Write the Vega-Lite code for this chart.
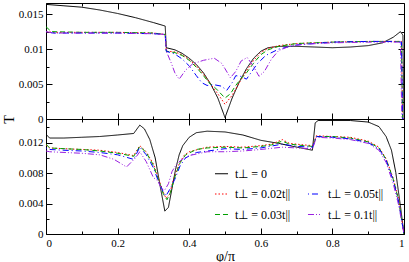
{
  "$schema": "https://vega.github.io/schema/vega-lite/v6.json",
  "padding": {"left": 1, "top": 1, "right": 3, "bottom": 1},
  "spacing": 0,
  "bounds": "flush",
  "config": {
    "font": "Liberation Serif",
    "view": {"stroke": "black", "strokeWidth": 1},
    "axis": {"domain": false, "grid": false, "tickColor": "black", "labelColor": "black", "labelFontSize": 11, "titleFontSize": 14, "titleFontWeight": "normal", "labelFont": "Liberation Serif", "titleFont": "Liberation Serif", "titleColor": "black", "labelPadding": 9}
  },
  "datasets": {
    "top": [
      {"s":"a","x":0,"y":0.0164},{"s":"a","x":0.05,"y":0.0162},{"s":"a","x":0.1,"y":0.0160},{"s":"a","x":0.15,"y":0.0156},{"s":"a","x":0.2,"y":0.0151},{"s":"a","x":0.25,"y":0.0145},{"s":"a","x":0.3,"y":0.0138},{"s":"a","x":0.333,"y":0.0133},{"s":"a","x":0.336,"y":0.0102},{"s":"a","x":0.36,"y":0.0099},{"s":"a","x":0.38,"y":0.0094},{"s":"a","x":0.4,"y":0.0087},{"s":"a","x":0.42,"y":0.0078},{"s":"a","x":0.44,"y":0.0066},{"s":"a","x":0.46,"y":0.0050},{"s":"a","x":0.48,"y":0.0030},{"s":"a","x":0.5,"y":0.0002},{"s":"a","x":0.52,"y":0.0030},{"s":"a","x":0.54,"y":0.0053},{"s":"a","x":0.56,"y":0.0072},{"s":"a","x":0.58,"y":0.0087},{"s":"a","x":0.6,"y":0.0097},{"s":"a","x":0.62,"y":0.0102},{"s":"a","x":0.65,"y":0.0104},{"s":"a","x":0.7,"y":0.0104},{"s":"a","x":0.75,"y":0.0103},{"s":"a","x":0.8,"y":0.0102},{"s":"a","x":0.85,"y":0.0103},{"s":"a","x":0.9,"y":0.0105},{"s":"a","x":0.94,"y":0.0109},{"s":"a","x":0.97,"y":0.0117},{"s":"a","x":0.99,"y":0.0125},{"s":"a","x":0.997,"y":0.0120},{"s":"a","x":1.0,"y":0.0},
      {"s":"b","x":0,"y":0.0125},{"s":"b","x":0.02,"y":0.0124},{"s":"b","x":0.1,"y":0.0124},{"s":"b","x":0.2,"y":0.0124},{"s":"b","x":0.3,"y":0.0123},{"s":"b","x":0.333,"y":0.0121},{"s":"b","x":0.336,"y":0.0097},{"s":"b","x":0.36,"y":0.0096},{"s":"b","x":0.38,"y":0.0092},{"s":"b","x":0.4,"y":0.0085},{"s":"b","x":0.42,"y":0.0076},{"s":"b","x":0.44,"y":0.0064},{"s":"b","x":0.46,"y":0.0050},{"s":"b","x":0.48,"y":0.0036},{"s":"b","x":0.5,"y":0.0021},{"s":"b","x":0.52,"y":0.0034},{"s":"b","x":0.54,"y":0.0052},{"s":"b","x":0.56,"y":0.0069},{"s":"b","x":0.58,"y":0.0084},{"s":"b","x":0.6,"y":0.0095},{"s":"b","x":0.62,"y":0.0101},{"s":"b","x":0.65,"y":0.0105},{"s":"b","x":0.7,"y":0.0108},{"s":"b","x":0.8,"y":0.0110},{"s":"b","x":0.9,"y":0.0111},{"s":"b","x":0.97,"y":0.0111},{"s":"b","x":0.993,"y":0.0111},{"s":"b","x":0.996,"y":0.0},{"s":"b","x":1.0,"y":0.0},
      {"s":"c","x":0,"y":0.0132},{"s":"c","x":0.015,"y":0.0125},{"s":"c","x":0.1,"y":0.0124},{"s":"c","x":0.2,"y":0.0124},{"s":"c","x":0.3,"y":0.0123},{"s":"c","x":0.333,"y":0.0121},{"s":"c","x":0.336,"y":0.0097},{"s":"c","x":0.36,"y":0.0095},{"s":"c","x":0.38,"y":0.0091},{"s":"c","x":0.4,"y":0.0084},{"s":"c","x":0.42,"y":0.0074},{"s":"c","x":0.44,"y":0.0062},{"s":"c","x":0.455,"y":0.0052},{"s":"c","x":0.474,"y":0.0044},{"s":"c","x":0.5,"y":0.0030},{"s":"c","x":0.515,"y":0.0036},{"s":"c","x":0.53,"y":0.0048},{"s":"c","x":0.545,"y":0.0058},{"s":"c","x":0.56,"y":0.0066},{"s":"c","x":0.58,"y":0.0080},{"s":"c","x":0.6,"y":0.0092},{"s":"c","x":0.62,"y":0.0099},{"s":"c","x":0.65,"y":0.0104},{"s":"c","x":0.7,"y":0.0108},{"s":"c","x":0.8,"y":0.0110},{"s":"c","x":0.9,"y":0.0111},{"s":"c","x":0.97,"y":0.0111},{"s":"c","x":0.993,"y":0.0111},{"s":"c","x":0.996,"y":0.0},{"s":"c","x":1.0,"y":0.0},
      {"s":"d","x":0,"y":0.0125},{"s":"d","x":0.02,"y":0.0123},{"s":"d","x":0.1,"y":0.0123},{"s":"d","x":0.2,"y":0.0123},{"s":"d","x":0.3,"y":0.0122},{"s":"d","x":0.333,"y":0.0121},{"s":"d","x":0.336,"y":0.0097},{"s":"d","x":0.36,"y":0.0093},{"s":"d","x":0.38,"y":0.0086},{"s":"d","x":0.4,"y":0.0076},{"s":"d","x":0.42,"y":0.0062},{"s":"d","x":0.435,"y":0.0052},{"s":"d","x":0.45,"y":0.0048},{"s":"d","x":0.47,"y":0.0049},{"s":"d","x":0.49,"y":0.0047},{"s":"d","x":0.505,"y":0.0041},{"s":"d","x":0.52,"y":0.0052},{"s":"d","x":0.53,"y":0.0062},{"s":"d","x":0.545,"y":0.0061},{"s":"d","x":0.56,"y":0.0057},{"s":"d","x":0.575,"y":0.0068},{"s":"d","x":0.59,"y":0.0079},{"s":"d","x":0.614,"y":0.0091},{"s":"d","x":0.65,"y":0.0100},{"s":"d","x":0.7,"y":0.0106},{"s":"d","x":0.8,"y":0.0110},{"s":"d","x":0.9,"y":0.0111},{"s":"d","x":0.97,"y":0.0111},{"s":"d","x":0.993,"y":0.0110},{"s":"d","x":0.996,"y":0.0},{"s":"d","x":1.0,"y":0.0},
      {"s":"e","x":0,"y":0.0125},{"s":"e","x":0.02,"y":0.0123},{"s":"e","x":0.1,"y":0.0123},{"s":"e","x":0.2,"y":0.0123},{"s":"e","x":0.3,"y":0.0122},{"s":"e","x":0.333,"y":0.0121},{"s":"e","x":0.336,"y":0.0097},{"s":"e","x":0.35,"y":0.0080},{"s":"e","x":0.36,"y":0.0066},{"s":"e","x":0.372,"y":0.0057},{"s":"e","x":0.39,"y":0.0070},{"s":"e","x":0.41,"y":0.0079},{"s":"e","x":0.44,"y":0.0084},{"s":"e","x":0.47,"y":0.0087},{"s":"e","x":0.49,"y":0.0080},{"s":"e","x":0.5,"y":0.0072},{"s":"e","x":0.515,"y":0.0059},{"s":"e","x":0.53,"y":0.0068},{"s":"e","x":0.545,"y":0.0083},{"s":"e","x":0.562,"y":0.0088},{"s":"e","x":0.58,"y":0.0075},{"s":"e","x":0.595,"y":0.0061},{"s":"e","x":0.61,"y":0.0068},{"s":"e","x":0.63,"y":0.0086},{"s":"e","x":0.65,"y":0.0098},{"s":"e","x":0.68,"y":0.0104},{"s":"e","x":0.72,"y":0.0107},{"s":"e","x":0.8,"y":0.0109},{"s":"e","x":0.9,"y":0.0110},{"s":"e","x":0.99,"y":0.0110},{"s":"e","x":0.994,"y":0.0},{"s":"e","x":1.0,"y":0.0}
    ],
    "bot": [
      {"s":"a","x":0,"y":0.0131},{"s":"a","x":0.01,"y":0.0126},{"s":"a","x":0.05,"y":0.0126},{"s":"a","x":0.1,"y":0.0127},{"s":"a","x":0.15,"y":0.0128},{"s":"a","x":0.2,"y":0.0130},{"s":"a","x":0.245,"y":0.0132},{"s":"a","x":0.262,"y":0.0143},{"s":"a","x":0.275,"y":0.0138},{"s":"a","x":0.29,"y":0.0124},{"s":"a","x":0.305,"y":0.0100},{"s":"a","x":0.32,"y":0.0060},{"s":"a","x":0.332,"y":0.0030},{"s":"a","x":0.342,"y":0.0035},{"s":"a","x":0.352,"y":0.0060},{"s":"a","x":0.362,"y":0.0085},{"s":"a","x":0.372,"y":0.0104},{"s":"a","x":0.382,"y":0.0116},{"s":"a","x":0.4,"y":0.0127},{"s":"a","x":0.42,"y":0.0133},{"s":"a","x":0.45,"y":0.0135},{"s":"a","x":0.5,"y":0.0134},{"s":"a","x":0.55,"y":0.0130},{"s":"a","x":0.6,"y":0.0123},{"s":"a","x":0.65,"y":0.0119},{"s":"a","x":0.68,"y":0.0116},{"s":"a","x":0.744,"y":0.0110},{"s":"a","x":0.752,"y":0.0146},{"s":"a","x":0.76,"y":0.0149},{"s":"a","x":0.8,"y":0.0149},{"s":"a","x":0.85,"y":0.0149},{"s":"a","x":0.9,"y":0.0147},{"s":"a","x":0.93,"y":0.0141},{"s":"a","x":0.95,"y":0.0128},{"s":"a","x":0.965,"y":0.0110},{"s":"a","x":0.977,"y":0.0081},{"s":"a","x":0.99,"y":0.0037},{"s":"a","x":1.0,"y":0.0},
      {"s":"b","x":0,"y":0.0117},{"s":"b","x":0.01,"y":0.0113},{"s":"b","x":0.05,"y":0.0112},{"s":"b","x":0.1,"y":0.0111},{"s":"b","x":0.15,"y":0.0110},{"s":"b","x":0.2,"y":0.0107},{"s":"b","x":0.245,"y":0.0103},{"s":"b","x":0.262,"y":0.0116},{"s":"b","x":0.28,"y":0.0108},{"s":"b","x":0.3,"y":0.0092},{"s":"b","x":0.315,"y":0.0072},{"s":"b","x":0.325,"y":0.0058},{"s":"b","x":0.335,"y":0.0047},{"s":"b","x":0.345,"y":0.0052},{"s":"b","x":0.355,"y":0.0070},{"s":"b","x":0.37,"y":0.0090},{"s":"b","x":0.385,"y":0.0103},{"s":"b","x":0.4,"y":0.0108},{"s":"b","x":0.45,"y":0.0114},{"s":"b","x":0.5,"y":0.0115},{"s":"b","x":0.55,"y":0.0114},{"s":"b","x":0.6,"y":0.0116},{"s":"b","x":0.63,"y":0.0118},{"s":"b","x":0.66,"y":0.0124},{"s":"b","x":0.68,"y":0.0119},{"s":"b","x":0.72,"y":0.0117},{"s":"b","x":0.745,"y":0.0116},{"s":"b","x":0.755,"y":0.0129},{"s":"b","x":0.8,"y":0.0128},{"s":"b","x":0.85,"y":0.0127},{"s":"b","x":0.9,"y":0.0122},{"s":"b","x":0.93,"y":0.0114},{"s":"b","x":0.95,"y":0.0099},{"s":"b","x":0.97,"y":0.0073},{"s":"b","x":0.985,"y":0.0046},{"s":"b","x":1.0,"y":0.0},
      {"s":"c","x":0,"y":0.0118},{"s":"c","x":0.01,"y":0.0113},{"s":"c","x":0.05,"y":0.0112},{"s":"c","x":0.1,"y":0.0111},{"s":"c","x":0.15,"y":0.0109},{"s":"c","x":0.2,"y":0.0106},{"s":"c","x":0.245,"y":0.0102},{"s":"c","x":0.262,"y":0.0115},{"s":"c","x":0.28,"y":0.0107},{"s":"c","x":0.3,"y":0.0090},{"s":"c","x":0.315,"y":0.0070},{"s":"c","x":0.328,"y":0.0052},{"s":"c","x":0.338,"y":0.0045},{"s":"c","x":0.348,"y":0.0055},{"s":"c","x":0.36,"y":0.0075},{"s":"c","x":0.375,"y":0.0094},{"s":"c","x":0.39,"y":0.0104},{"s":"c","x":0.42,"y":0.0111},{"s":"c","x":0.45,"y":0.0113},{"s":"c","x":0.5,"y":0.0114},{"s":"c","x":0.55,"y":0.0113},{"s":"c","x":0.6,"y":0.0115},{"s":"c","x":0.63,"y":0.0117},{"s":"c","x":0.66,"y":0.0122},{"s":"c","x":0.68,"y":0.0118},{"s":"c","x":0.72,"y":0.0116},{"s":"c","x":0.745,"y":0.0115},{"s":"c","x":0.755,"y":0.0128},{"s":"c","x":0.8,"y":0.0128},{"s":"c","x":0.85,"y":0.0126},{"s":"c","x":0.9,"y":0.0121},{"s":"c","x":0.93,"y":0.0113},{"s":"c","x":0.95,"y":0.0098},{"s":"c","x":0.97,"y":0.0072},{"s":"c","x":0.985,"y":0.0044},{"s":"c","x":1.0,"y":0.0},
      {"s":"d","x":0,"y":0.0113},{"s":"d","x":0.01,"y":0.0111},{"s":"d","x":0.05,"y":0.0110},{"s":"d","x":0.1,"y":0.0109},{"s":"d","x":0.15,"y":0.0107},{"s":"d","x":0.2,"y":0.0104},{"s":"d","x":0.245,"y":0.0098},{"s":"d","x":0.262,"y":0.0114},{"s":"d","x":0.28,"y":0.0104},{"s":"d","x":0.3,"y":0.0087},{"s":"d","x":0.315,"y":0.0068},{"s":"d","x":0.328,"y":0.0055},{"s":"d","x":0.335,"y":0.0050},{"s":"d","x":0.345,"y":0.0058},{"s":"d","x":0.36,"y":0.0072},{"s":"d","x":0.375,"y":0.0090},{"s":"d","x":0.39,"y":0.0100},{"s":"d","x":0.42,"y":0.0107},{"s":"d","x":0.5,"y":0.0112},{"s":"d","x":0.55,"y":0.0111},{"s":"d","x":0.6,"y":0.0113},{"s":"d","x":0.66,"y":0.0118},{"s":"d","x":0.7,"y":0.0115},{"s":"d","x":0.745,"y":0.0114},{"s":"d","x":0.755,"y":0.0128},{"s":"d","x":0.8,"y":0.0127},{"s":"d","x":0.85,"y":0.0125},{"s":"d","x":0.9,"y":0.0120},{"s":"d","x":0.93,"y":0.0112},{"s":"d","x":0.95,"y":0.0097},{"s":"d","x":0.97,"y":0.0070},{"s":"d","x":0.985,"y":0.0042},{"s":"d","x":1.0,"y":0.0},
      {"s":"e","x":0,"y":0.0109},{"s":"e","x":0.01,"y":0.0108},{"s":"e","x":0.1,"y":0.0106},{"s":"e","x":0.15,"y":0.0104},{"s":"e","x":0.19,"y":0.0098},{"s":"e","x":0.225,"y":0.0088},{"s":"e","x":0.25,"y":0.0100},{"s":"e","x":0.262,"y":0.0108},{"s":"e","x":0.28,"y":0.0095},{"s":"e","x":0.3,"y":0.0074},{"s":"e","x":0.312,"y":0.0070},{"s":"e","x":0.322,"y":0.0060},{"s":"e","x":0.332,"y":0.0058},{"s":"e","x":0.342,"y":0.0066},{"s":"e","x":0.352,"y":0.0082},{"s":"e","x":0.365,"y":0.0092},{"s":"e","x":0.38,"y":0.0098},{"s":"e","x":0.4,"y":0.0103},{"s":"e","x":0.45,"y":0.0108},{"s":"e","x":0.5,"y":0.0108},{"s":"e","x":0.55,"y":0.0109},{"s":"e","x":0.6,"y":0.0111},{"s":"e","x":0.66,"y":0.0114},{"s":"e","x":0.7,"y":0.0113},{"s":"e","x":0.745,"y":0.0112},{"s":"e","x":0.755,"y":0.0127},{"s":"e","x":0.8,"y":0.0126},{"s":"e","x":0.85,"y":0.0124},{"s":"e","x":0.9,"y":0.0119},{"s":"e","x":0.93,"y":0.0110},{"s":"e","x":0.95,"y":0.0094},{"s":"e","x":0.97,"y":0.0066},{"s":"e","x":0.985,"y":0.0038},{"s":"e","x":1.0,"y":0.0}
    ]
  },
  "resolve": {"scale": {"color": "independent", "strokeDash": "independent"}},
  "vconcat": [
    {
      "width": 358,
      "height": 116,
      "data": {"name": "top"},
      "layer": [
        {
          "mark": {"type": "line", "strokeWidth": 1, "clip": true},
          "encoding": {
            "x": {"field": "x", "type": "quantitative", "scale": {"domain": [0, 1], "nice": false, "zero": false},
                  "axis": {"orient": "bottom", "values": [0,0.1,0.2,0.3,0.4,0.5,0.6,0.7,0.8,0.9,1], "labels": false, "title": null,
                           "tickSize": {"expr": "round(datum.value*10)%2==0 ? -6 : -3"}}},
            "y": {"field": "y", "type": "quantitative", "scale": {"domain": [0, 0.0166], "nice": false},
                  "axis": {"orient": "left", "values": [0,0.0025,0.005,0.0075,0.01,0.0125,0.015], "format": ".3~f",
                           "labelExpr": "round(datum.value/0.0025)%2==1 ? '' : datum.label",
                           "title": "T", "titleAnchor": "start", "titleAlign": "center", "titlePadding": 2,
                           "tickSize": {"expr": "round(datum.value/0.0025)%2==0 ? -6 : -3"}}},
            "color": {"field": "s", "type": "nominal", "legend": null,
                      "scale": {"domain": ["a","b","c","z","d","e"], "range": ["black","#ff0000","#00a000","transparent","#0000ff","#9a20e0"]}},
            "strokeDash": {"field": "s", "type": "nominal", "legend": null,
                      "scale": {"domain": ["a","b","c","z","d","e"], "range": [[1,0],[1.5,2],[5,3],[1,0],[1,3,6,3],[6,2,1,2,1,2]]}}
          }
        },
        {
          "mark": {"type": "point", "opacity": 0},
          "encoding": {
            "x": {"field": "x", "type": "quantitative", "scale": {"domain": [0, 1], "nice": false, "zero": false},
                  "axis": {"orient": "top", "values": [0,0.1,0.2,0.3,0.4,0.5,0.6,0.7,0.8,0.9,1], "labels": false, "title": null,
                           "tickSize": {"expr": "round(datum.value*10)%2==0 ? -6 : -3"}}},
            "y": {"field": "y", "type": "quantitative", "scale": {"domain": [0, 0.0166], "nice": false},
                  "axis": {"orient": "right", "values": [0,0.0025,0.005,0.0075,0.01,0.0125,0.015], "labels": false, "title": null,
                           "tickSize": {"expr": "round(datum.value/0.0025)%2==0 ? -6 : -3"}}}
          }
        }
      ],
      "resolve": {"scale": {"x": "independent", "y": "independent"}}
    },
    {
      "width": 358,
      "height": 115,
      "data": {"name": "bot"},
      "layer": [
        {
          "mark": {"type": "line", "strokeWidth": 1, "clip": true},
          "encoding": {
            "x": {"field": "x", "type": "quantitative", "scale": {"domain": [0, 1], "nice": false, "zero": false},
                  "axis": {"orient": "bottom", "values": [0,0.1,0.2,0.3,0.4,0.5,0.6,0.7,0.8,0.9,1], "format": ".1~f",
                           "labelExpr": "round(datum.value*10)%2==1 ? '' : datum.label",
                           "title": "φ/π", "titlePadding": 1,
                           "tickSize": {"expr": "round(datum.value*10)%2==0 ? -6 : -3"}}},
            "y": {"field": "y", "type": "quantitative", "scale": {"domain": [0, 0.0151], "nice": false},
                  "axis": {"orient": "left", "values": [0,0.002,0.004,0.006,0.008,0.01,0.012,0.014], "format": ".3~f",
                           "labelExpr": "round(datum.value/0.002)%2==1 ? '' : datum.label", "title": null,
                           "tickSize": {"expr": "round(datum.value/0.002)%2==0 ? -6 : -3"}}},
            "color": {"field": "s", "type": "nominal",
                      "scale": {"domain": ["a","b","c","z","d","e"], "range": ["black","#ff0000","#00a000","transparent","#0000ff","#9a20e0"]},
                      "legend": {"orient": "none", "legendX": 168, "legendY": 47, "columns": 2, "title": null,
                                 "symbolType": "stroke", "symbolSize": 170, "symbolStrokeWidth": 1.2,
                                 "labelFont": "Liberation Serif", "labelFontSize": 12, "labelColor": "black", "labelOffset": 6,
                                 "rowPadding": 6.5, "columnPadding": 14,
                                 "labelExpr": "datum.value=='a' ? 't⊥ = 0' : datum.value=='b' ? 't⊥ = 0.02t||' : datum.value=='c' ? 't⊥ = 0.03t||' : datum.value=='d' ? 't⊥ = 0.05t||' : datum.value=='e' ? 't⊥ = 0.1t||' : ''"}},
            "strokeDash": {"field": "s", "type": "nominal",
                      "scale": {"domain": ["a","b","c","z","d","e"], "range": [[1,0],[1.5,2],[5,3],[1,0],[1,3,6,3],[6,2,1,2,1,2]]}}
          }
        },
        {
          "mark": {"type": "point", "opacity": 0},
          "encoding": {
            "x": {"field": "x", "type": "quantitative", "scale": {"domain": [0, 1], "nice": false, "zero": false},
                  "axis": {"orient": "top", "values": [0,0.1,0.2,0.3,0.4,0.5,0.6,0.7,0.8,0.9,1], "labels": false, "title": null,
                           "tickSize": {"expr": "round(datum.value*10)%2==0 ? -6 : -3"}}},
            "y": {"field": "y", "type": "quantitative", "scale": {"domain": [0, 0.0151], "nice": false},
                  "axis": {"orient": "right", "values": [0,0.002,0.004,0.006,0.008,0.01,0.012,0.014], "labels": false, "title": null,
                           "tickSize": {"expr": "round(datum.value/0.002)%2==0 ? -6 : -3"}}}
          }
        }
      ],
      "resolve": {"scale": {"x": "independent", "y": "independent"}}
    }
  ]
}
